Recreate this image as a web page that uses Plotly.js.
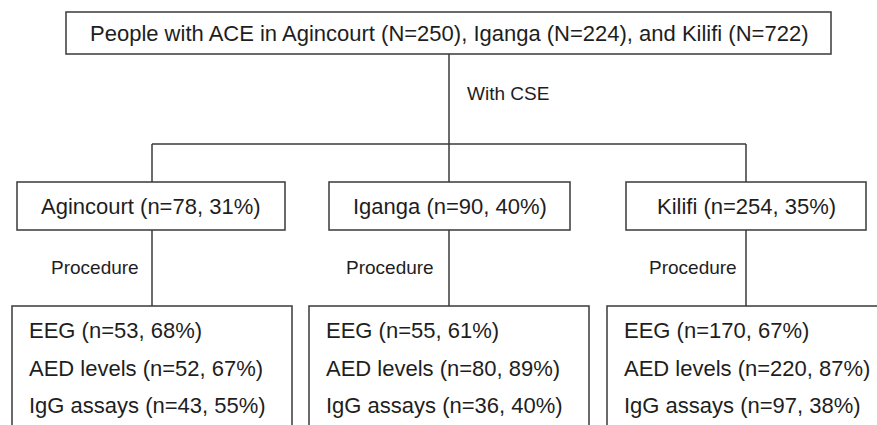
<!DOCTYPE html>
<html>
<head>
<meta charset="utf-8">
<script src="https://cdn.plot.ly/plotly-3.0.1.min.js"></script>
<style>
html,body{margin:0;padding:0;background:#fff;}
#chart{width:877px;height:425px;}
</style>
</head>
<body>
<div id="chart"></div>
<script>
// ---- data ----
const sites = ["Agincourt", "Iganga", "Kilifi"];
const siteN = [250, 224, 722];
const cseN = [78, 90, 254];
const csePct = [31, 40, 35];
const procNames = ["EEG", "AED levels", "IgG assays"];
const eegN = [53, 55, 170];
const eegPct = [68, 61, 67];
const aedN = [52, 80, 220];
const aedPct = [67, 89, 87];
const iggN = [43, 36, 97];
const iggPct = [55, 40, 38];
const edgeTop = "With CSE";
const edgeProc = "Procedure";

// ---- layout geometry (pixels) ----
const W = 877, H = 425;
const lineCol = "#3a3a3a", textCol = "#1e1e1e";
const FONT = "Liberation Sans, Arial, sans-serif";
const topBox = {x0: 66, x1: 831, y0: 12, y1: 54};
const branchY = 144;
const centersX = [152, 449, 746];
const midBoxes = [[17, 285], [329, 570], [626, 866]];
const midY0 = 182, midY1 = 230;
const botBoxes = [[12, 292], [309, 589], [607, 900]];
const botY0 = 306, botY1 = 440;
const botLineY = [330, 368, 405];
const procLabelRight = [141, 436, 739];

const shapes = [];
const ann = [];
function line(x0, y0, x1, y1) {
  shapes.push({type: "line", xref: "x", yref: "y", x0, y0, x1, y1,
    line: {color: lineCol, width: 1.5}});
}
function rect(x0, y0, x1, y1) {
  shapes.push({type: "rect", xref: "x", yref: "y", x0, y0, x1, y1,
    line: {color: lineCol, width: 1.5}, fillcolor: "rgba(0,0,0,0)"});
}
function text(t, x, y, size, xanchor) {
  ann.push({text: t, x, y, xref: "x", yref: "y", showarrow: false,
    xanchor: xanchor || "center", yanchor: "middle",
    font: {family: FONT, size: size, color: textCol}});
}

const topText = "People with ACE in " + sites.map((s, i) => s + " (N=" + siteN[i] + ")")
  .map((s, i, a) => (i === a.length - 1 ? "and " : "") + s).join(", ");
rect(topBox.x0, topBox.y0, topBox.x1, topBox.y1);
text(topText, (topBox.x0 + topBox.x1) / 2, 33, 22);

line(centersX[1], topBox.y1, centersX[1], branchY);
text(edgeTop, centersX[1] + 16, 93, 19, "left");
line(centersX[0], branchY, centersX[2], branchY);

sites.forEach((s, i) => {
  const cx = centersX[i];
  line(cx, branchY, cx, midY0);
  rect(midBoxes[i][0], midY0, midBoxes[i][1], midY1);
  text(s + " (n=" + cseN[i] + ", " + csePct[i] + "%)", (midBoxes[i][0] + midBoxes[i][1]) / 2, 206, 22);
  line(cx, midY1, cx, botY0);
  text(edgeProc, procLabelRight[i], 267, 19, "right");
  rect(botBoxes[i][0], botY0, botBoxes[i][1], botY1);
  const rows = [[eegN, eegPct], [aedN, aedPct], [iggN, iggPct]];
  rows.forEach((r, j) => {
    text(procNames[j] + " (n=" + r[0][i] + ", " + r[1][i] + "%)", botBoxes[i][0] + 15, botLineY[j], 22, "left");
  });
});

const layout = {
  width: W, height: H,
  margin: {l: 0, r: 0, t: 0, b: 0},
  paper_bgcolor: "#fff", plot_bgcolor: "#fff",
  xaxis: {range: [0, W], visible: false, fixedrange: true},
  yaxis: {range: [H, 0], visible: false, fixedrange: true},
  shapes: shapes, annotations: ann, showlegend: false
};
Plotly.newPlot("chart", [{x: [], y: [], type: "scatter", mode: "markers"}], layout, {displayModeBar: false, staticPlot: true});
</script>
</body>
</html>
